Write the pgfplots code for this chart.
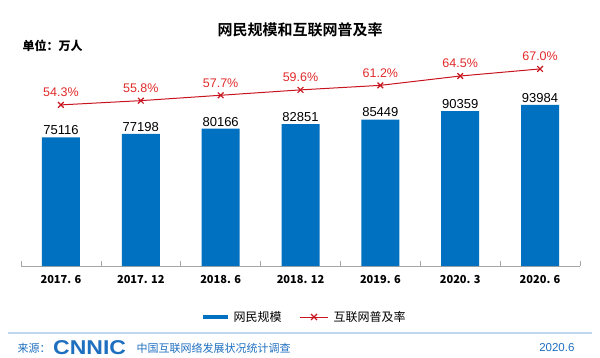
\documentclass[border=0pt]{standalone}
\usepackage{fontspec}
\setmainfont{Liberation Sans}
\newfontfamily\cjk{Noto Sans CJK SC}
\newfontfamily\cjkb{Noto Sans CJK SC Bold}
\usepackage{pgfplots}
\pgfplotsset{compat=1.18}
\definecolor{barblue}{HTML}{0070C0}
\definecolor{linered}{HTML}{C8141E}
\definecolor{labred}{HTML}{E02A2A}
\definecolor{srcblue}{HTML}{1F6FC0}
\definecolor{sepblue}{HTML}{BDD7EE}
\begin{document}
\begin{tikzpicture}[x=1pt,y=1pt]
\path (0,0) rectangle (600,357);
% primary axis: bars
\begin{axis}[
  at={(21pt,91pt)}, anchor=south west,
  scale only axis, width=559pt, height=220pt,
  xmin=-0.5, xmax=6.5, ymin=0, ymax=128420,
  axis x line*=bottom, axis y line=none,
  axis line style={gray!70, line width=0.8pt},
  xtick={0,...,6}, xticklabels={2017. 6,2017. 12,2018. 6,2018. 12,2019. 6,2020. 3,2020. 6},
  major tick length=0pt,
  extra x ticks={-0.5,0.5,1.5,2.5,3.5,4.5,5.5,6.5},
  extra x tick labels={},
  extra x tick style={major tick length=5pt, tick style={gray!70, line width=0.6pt}, tick align=inside},
  xticklabel style={font=\cjk\fontsize{11}{12}\selectfont\bfseries, yshift=-6pt},
  clip=false,
  /pgf/number format/assume math mode=true,
  /pgf/number format/set thousands separator={},
  nodes near coords, every node near coord/.append style={font=\fontsize{13}{14}\selectfont, black, yshift=-1pt},
]
\addplot[ybar, bar width=38pt, fill=barblue, draw=none] coordinates {
 (0,75116) (1,77198) (2,80166) (3,82851) (4,85449) (5,90359) (6,93984)};
\end{axis}
% secondary axis: line
\begin{axis}[
  at={(21pt,91pt)}, anchor=south west,
  scale only axis, width=559pt, height=220pt,
  xmin=-0.5, xmax=6.5, ymin=-2.6, ymax=75.1,
  axis lines=none, clip=false,
  /pgf/number format/assume math mode=true,
  nodes near coords={\pgfmathprintnumber[fixed,precision=1,fixed zerofill]{\pgfplotspointmeta}\%},
  every node near coord/.append style={font=\fontsize{12.5}{13}\selectfont, labred, yshift=4pt},
]
\addplot[linered, line width=1pt, mark=x, mark size=4pt, mark options={line width=1.2pt}] coordinates {
 (0,54.3) (1,55.8) (2,57.7) (3,59.6) (4,61.2) (5,64.5) (6,67.0)};
\end{axis}
% title and unit
\node[font=\cjkb\fontsize{15}{16}\selectfont] at (300,327) {网民规模和互联网普及率};
\node[font=\cjk\fontsize{12}{13}\selectfont\bfseries, anchor=west] at (19,311) {单位：万人};
% legend
\draw[barblue, line width=3.5pt] (203,40) -- (228,40);
\node[font=\cjk\fontsize{12}{13}\selectfont, anchor=west] at (230,40) {网民规模};
\draw[linered, line width=1pt] (300,40) -- (328,40);
\draw[linered, line width=1.2pt] (311,37) -- (317,43) (311,43) -- (317,37);
\node[font=\cjk\fontsize{12}{13}\selectfont, anchor=west] at (330,40) {互联网普及率};
% footer
\draw[sepblue, line width=1.5pt] (8,24) -- (592,24);
\node[font=\cjk\fontsize{11}{12}\selectfont, text=srcblue, anchor=west] at (14,9) {来源：};
\node[font=\fontsize{20}{21}\selectfont\bfseries, text=srcblue, anchor=west, xscale=1.15, inner xsep=0pt] at (53,9.5) {CNNIC};
\node[font=\cjk\fontsize{11}{12}\selectfont, text=srcblue, anchor=west] at (133,9) {中国互联网络发展状况统计调查};
\node[font=\fontsize{11.5}{12}\selectfont, text=srcblue, anchor=east] at (578,9) {2020.6};
\end{tikzpicture}
\end{document}
